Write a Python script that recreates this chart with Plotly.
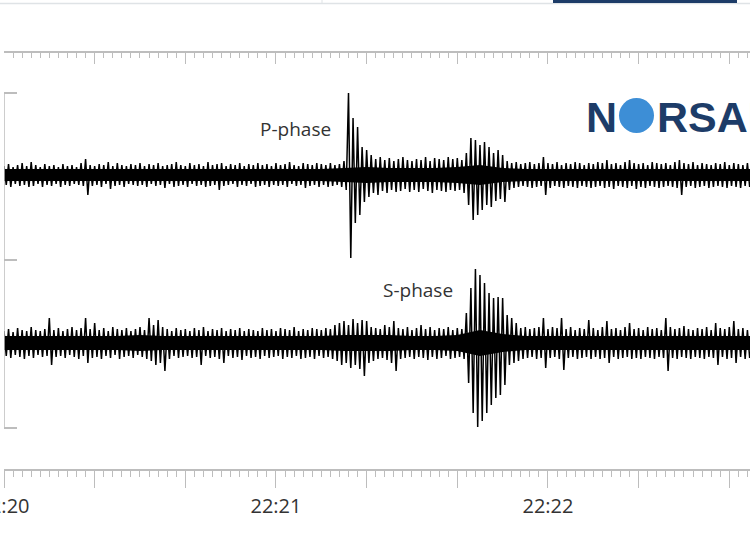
import plotly.graph_objects as go

# seconds after 22:20:00, one envelope sample per second (pixels of deflection)
seconds = list(range(165))

upper_up = [
    9, 11, 8, 10, 12, 9, 13, 10, 8, 11,
    9, 10, 8, 11, 9, 10, 8, 12, 16, 10,
    9, 11, 10, 13, 9, 12, 10, 9, 11, 10,
    12, 9, 11, 10, 12, 9, 10, 11, 13, 10,
    9, 12, 10, 11, 9, 13, 10, 11, 12, 9,
    11, 10, 12, 9, 11, 10, 12, 10, 11, 9,
    12, 10, 11, 13, 10, 9, 12, 11, 10, 12,
    11, 10, 12, 10, 11, 14, 82, 57, 48, 28,
    25, 20, 16, 18, 15, 17, 14, 16, 18, 15,
    14, 16, 15, 18, 14, 17, 16, 15, 18, 16,
    17, 15, 22, 37, 35, 30, 33, 28, 22, 25,
    20, 14, 12, 13, 11, 12, 13, 11, 12, 18,
    12, 11, 13, 10, 12, 11, 13, 12, 10, 12,
    11, 13, 12, 15, 11, 12, 10, 13, 15, 12,
    11, 12, 10, 13, 12, 11, 12, 10, 13, 15,
    12, 11, 13, 10, 12, 11, 10, 12, 11, 13,
    10, 12, 11, 10, 12,
]
upper_down = [
    10, 12, 9, 11, 10, 12, 11, 9, 12, 10,
    11, 9, 12, 10, 11, 9, 10, 11, 20, 11,
    10, 12, 9, 14, 11, 10, 12, 9, 10, 11,
    10, 12, 9, 11, 10, 13, 9, 12, 11, 10,
    12, 9, 11, 10, 12, 11, 10, 15, 11, 10,
    9, 12, 10, 11, 9, 12, 11, 10, 12, 10,
    11, 10, 12, 9, 11, 10, 13, 11, 10, 12,
    10, 12, 11, 10, 12, 15, 83, 48, 40, 27,
    22, 18, 20, 16, 18, 15, 17, 16, 14, 17,
    15, 17, 14, 16, 18, 15, 16, 17, 15, 16,
    15, 18, 30, 45, 40, 35, 30, 32, 26, 24,
    27, 15, 13, 12, 11, 12, 13, 12, 11, 20,
    13, 11, 12, 13, 11, 12, 13, 11, 12, 13,
    12, 11, 13, 12, 14, 11, 12, 13, 11, 14,
    12, 13, 11, 12, 13, 12, 11, 12, 13, 20,
    12, 11, 13, 12, 11, 13, 12, 11, 12, 13,
    11, 12, 13, 11, 12,
]
lower_up = [
    12, 14, 11, 15, 13, 12, 16, 13, 12, 14,
    25, 13, 15, 12, 14, 16, 13, 15, 25, 14,
    20, 13, 15, 12, 16, 14, 13, 15, 12, 14,
    16, 13, 25, 18, 23, 16, 14, 12, 15, 13,
    14, 12, 15, 13, 16, 12, 14, 13, 15, 12,
    14, 13, 15, 12, 14, 13, 12, 15, 13, 14,
    12, 15, 14, 13, 16, 12, 14, 13, 15, 14,
    13, 15, 14, 18, 20, 22, 18, 24, 20, 23,
    22, 16, 15, 14, 18, 16, 22, 15, 14, 16,
    13, 15, 18, 14, 16, 13, 15, 14, 16, 13,
    15, 14, 30, 55, 74, 68, 60, 50, 45, 46,
    45, 28, 25, 20, 15, 16, 14, 15, 16, 25,
    14, 16, 15, 25, 14, 16, 13, 15, 14, 23,
    15, 13, 16, 22, 14, 15, 13, 16, 20, 14,
    15, 13, 16, 14, 15, 13, 25, 16, 14, 15,
    17, 14, 13, 15, 14, 16, 13, 20, 15, 14,
    16, 22, 14, 15, 13,
]
lower_down = [
    13, 15, 12, 14, 16, 13, 15, 12, 14, 13,
    22, 14, 13, 15, 12, 14, 16, 13, 20, 15,
    14, 16, 13, 15, 12, 16, 14, 13, 15, 12,
    14, 16, 18, 22, 20, 28, 16, 13, 15, 14,
    13, 15, 14, 22, 13, 15, 14, 16, 20, 13,
    15, 14, 17, 13, 15, 14, 16, 13, 15, 14,
    13, 16, 14, 15, 13, 16, 15, 14, 16, 13,
    15, 14, 16, 18, 22, 20, 25, 22, 26, 33,
    20, 18, 16, 15, 17, 20, 28, 16, 15, 14,
    16, 14, 15, 17, 14, 16, 15, 13, 16, 15,
    14, 16, 40, 70, 84, 78, 70, 62, 55, 52,
    42, 22, 20, 18, 16, 15, 14, 16, 15, 25,
    15, 14, 16, 27, 15, 14, 16, 15, 14, 16,
    14, 16, 15, 20, 14, 16, 15, 14, 16, 15,
    16, 14, 15, 16, 14, 15, 28, 15, 16, 14,
    15, 16, 14, 15, 16, 14, 15, 22, 14, 16,
    15, 20, 14, 16, 15,
]

# half-width of the solid dark core of each trace, sampled every 5 s
core_seconds = list(range(0, 170, 5))
upper_core = [
    6, 6, 6, 6, 6, 6, 6, 6, 6, 6,
    6, 6, 6, 6, 6, 7, 8, 7, 7, 7,
    8, 10, 7, 6, 6, 6, 6, 6, 6, 6,
    6, 6, 6, 6,
]
lower_core = [
    7, 7, 7, 7, 7, 7, 8, 7, 7, 7,
    7, 7, 7, 7, 7, 8, 8, 8, 7, 7,
    8, 13, 9, 7, 7, 7, 7, 7, 7, 7,
    7, 7, 7, 7,
]

tick_seconds = [0, 20, 40, 60, 80, 100, 120, 140, 160]
tick_labels = ["22:20", "", "", "22:21", "", "", "22:22", "", ""]

UPPER_BASE = 253
LOWER_BASE = 85
GREY = "#bdbdbd"
NAVY = "#1d3c68"


def zigzag(up, down, base):
    xs, ys = [], []
    for t, a, b in zip(seconds, up, down):
        xs += [t, t + 0.5]
        ys += [base + a, base - b]
    return xs, ys


def core_band(core, base):
    xs = core_seconds + core_seconds[::-1]
    ys = [base + c for c in core] + [base - c for c in core[::-1]]
    return xs, ys


# plot area sits at x 4..750, y 53..469 (pixels)
def px(x):
    return (x - 4) / 746


def py(y):
    return (469 - y) / 416


fig = go.Figure()

for up, down, core, base, xa in [
    (upper_up, upper_down, upper_core, UPPER_BASE, "x"),
    (lower_up, lower_down, lower_core, LOWER_BASE, "x2"),
]:
    cx, cy = core_band(core, base)
    fig.add_trace(go.Scatter(x=cx, y=cy, mode="lines", fill="toself", xaxis=xa,
                             fillcolor="black", line=dict(width=0), hoverinfo="skip"))
    zx, zy = zigzag(up, down, base)
    fig.add_trace(go.Scatter(x=zx, y=zy, mode="lines", xaxis=xa,
                             line=dict(color="black", width=1.5), hoverinfo="skip"))

ruler = dict(
    range=[0, 164.57], showline=True, linecolor=GREY, linewidth=1.5,
    tickmode="array", tickvals=tick_seconds, tickcolor=GREY, tickwidth=1,
    showgrid=False, zeroline=False, automargin=False,
)
fig.update_layout(
    width=750, height=536,
    margin=dict(l=4, r=0, t=53, b=67, autoexpand=False),
    paper_bgcolor="white", plot_bgcolor="white",
    showlegend=False,
    font=dict(family="Open Sans", color="#333333"),
    xaxis=dict(
        **ruler, ticks="outside", ticklen=17, ticktext=tick_labels,
        tickfont=dict(size=20, color="#333333"), ticklabelstandoff=1,
        ticklabeloverflow="allow",
        minor=dict(ticks="outside", ticklen=6, dtick=2, tick0=0,
                   tickcolor=GREY, showgrid=False),
    ),
    xaxis2=dict(
        **ruler, overlaying="x", matches="x", side="top", anchor="y",
        ticks="inside", ticklen=11, showticklabels=False,
        minor=dict(ticks="inside", ticklen=5, dtick=2, tick0=0,
                   tickcolor=GREY, showgrid=False),
    ),
    yaxis=dict(
        range=[-41, 375], showgrid=False, zeroline=False, showline=False,
        tickmode="array", tickvals=[0, 168, 335], ticks="inside", ticklen=13,
        tickcolor=GREY, tickwidth=1.5, showticklabels=False, automargin=False,
    ),
)

# left bracket spanning both traces
fig.add_shape(type="line", xref="x", yref="y", x0=0, x1=0, y0=0, y1=335,
              line=dict(color=GREY, width=1.5))

# page header fragments
fig.add_shape(type="line", xref="paper", yref="paper", x0=px(0), x1=1,
              y0=py(3.5), y1=py(3.5), line=dict(color="#dfe3e6", width=1.5))
fig.add_shape(type="line", xref="paper", yref="paper", x0=px(322), x1=px(322),
              y0=py(0), y1=py(3.5), line=dict(color="#dfe3e6", width=1))
fig.add_shape(type="rect", xref="paper", yref="paper", x0=px(553), x1=px(737),
              y0=py(3), y1=py(0), fillcolor=NAVY, line=dict(width=0))

# logo
fig.add_shape(type="circle", xref="paper", yref="paper", x0=px(619), x1=px(654),
              y0=py(133), y1=py(98), fillcolor="#3d8ed6", line=dict(width=0))
fig.add_annotation(x=px(601), y=py(117), xref="paper", yref="paper", text="<b>N</b>",
                   showarrow=False, xanchor="center", yanchor="middle",
                   font=dict(family="Liberation Sans", size=43, color=NAVY))
fig.add_annotation(x=px(655), y=py(117), xref="paper", yref="paper", text="<b>RSAR</b>",
                   showarrow=False, xanchor="left", yanchor="middle",
                   font=dict(family="Liberation Sans", size=43, color=NAVY))

fig.add_annotation(x=px(295), y=py(114), xref="paper", yref="paper", text="P-phase",
                   showarrow=False, font=dict(size=19, color="#333333"))
fig.add_annotation(x=px(418), y=py(290), xref="paper", yref="paper", text="S-phase",
                   showarrow=False, font=dict(size=19, color="#333333"))

# the page's default 8px body margin would shift the whole figure
fig.write_html("out.html", config={"displayModeBar": False},
               post_script="document.body.style.margin='0';")
